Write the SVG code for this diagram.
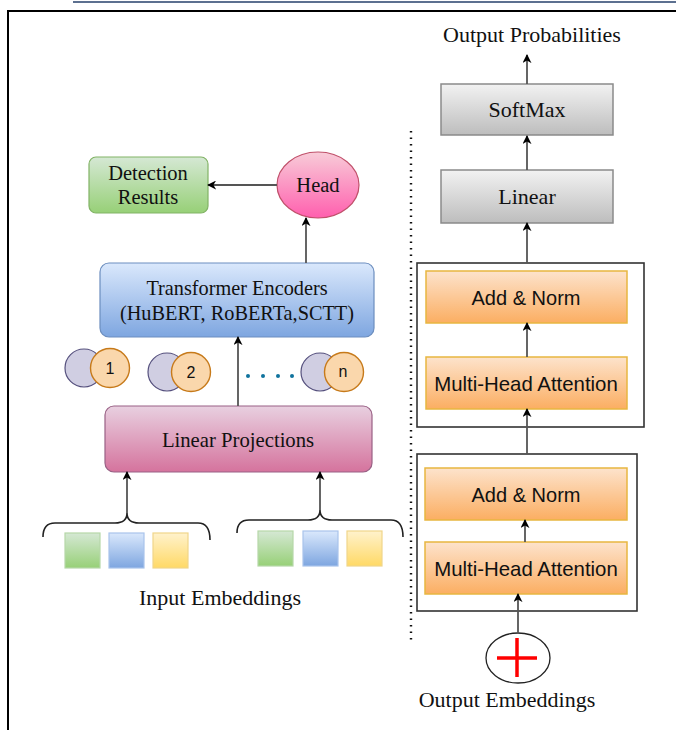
<svg xmlns="http://www.w3.org/2000/svg" width="676" height="730" viewBox="0 0 676 730">
<defs>
<linearGradient id="gGray" x1="0" y1="0" x2="0" y2="1"><stop offset="0" stop-color="#f2f2f2"/><stop offset="1" stop-color="#bdbdbd"/></linearGradient>
<linearGradient id="gOrange" x1="0" y1="0" x2="0" y2="1"><stop offset="0" stop-color="#fde3cc"/><stop offset="1" stop-color="#fbae62"/></linearGradient>
<linearGradient id="gBlue" x1="0" y1="0" x2="0" y2="1"><stop offset="0" stop-color="#dae8fc"/><stop offset="1" stop-color="#7ea6e0"/></linearGradient>
<linearGradient id="gGreen" x1="0" y1="0" x2="0" y2="1"><stop offset="0" stop-color="#d5e8d4"/><stop offset="1" stop-color="#97d077"/></linearGradient>
<linearGradient id="gPink" x1="0" y1="0" x2="0" y2="1"><stop offset="0" stop-color="#e8d0e0"/><stop offset="1" stop-color="#d5739d"/></linearGradient>
<linearGradient id="gHead" x1="0" y1="0" x2="0" y2="1"><stop offset="0" stop-color="#f8ccd8"/><stop offset="1" stop-color="#ff5fae"/></linearGradient>
<linearGradient id="gYellow" x1="0" y1="0" x2="0" y2="1"><stop offset="0" stop-color="#fff2cc"/><stop offset="1" stop-color="#ffd966"/></linearGradient>
<marker id="ah" viewBox="0 0 10 10" refX="9" refY="5" markerWidth="9" markerHeight="9" orient="auto" markerUnits="userSpaceOnUse"><path d="M0,0 L10,5 L0,10 L3,5 Z" fill="#000"/></marker>
<style>
.serif{font-family:"Liberation Serif","Times New Roman",serif;fill:#111;text-anchor:middle}
.sans{font-family:"Liberation Sans",Arial,sans-serif;fill:#111;text-anchor:middle}
.con{stroke:#555;stroke-width:1.8;fill:none;marker-end:url(#ah)}
.frame{fill:none;stroke:#333;stroke-width:1.6}
.gray{fill:url(#gGray);stroke:#8a8a8a;stroke-width:1.5}
.orange{fill:url(#gOrange);stroke:#e8b640;stroke-width:1.5}
</style>
</defs>
<rect x="0" y="0" width="676" height="730" fill="#fff"/>
<line x1="73" y1="2" x2="676" y2="2" stroke="#5c7090" stroke-width="2"/>
<path d="M8,730 V11 H676" fill="none" stroke="#000" stroke-width="2"/>

<g id="dotted-separator"><line x1="411" y1="131" x2="411" y2="640" stroke="#111" stroke-width="2.4" stroke-dasharray="1.6 4.9"/></g>

<g id="output-probabilities"><text class="serif" x="532" y="42" font-size="22">Output Probabilities</text></g>
<g id="softmax"><rect class="gray" x="441" y="84" width="172" height="51"/><text class="serif" x="527" y="117" font-size="22">SoftMax</text></g>
<g id="linear"><rect class="gray" x="441" y="170" width="172" height="53"/><text class="serif" x="527" y="204" font-size="22">Linear</text></g>

<g id="block-upper"><rect class="frame" x="417" y="263" width="227" height="164"/></g>
<g id="add-norm-1"><rect class="orange" x="426" y="271" width="201" height="52"/><text class="sans" x="526" y="305" font-size="20">Add &amp; Norm</text></g>
<g id="mha-1"><rect class="orange" x="426" y="357" width="201" height="52"/><text class="sans" x="526" y="391" font-size="20.4">Multi-Head Attention</text></g>

<g id="block-lower"><rect class="frame" x="417" y="454" width="220" height="157"/></g>
<g id="add-norm-2"><rect class="orange" x="425" y="468" width="202" height="52"/><text class="sans" x="526" y="502" font-size="20">Add &amp; Norm</text></g>
<g id="mha-2"><rect class="orange" x="425" y="542" width="202" height="52"/><text class="sans" x="526" y="576" font-size="20.4">Multi-Head Attention</text></g>

<g id="sum-node"><ellipse cx="518" cy="658" rx="32" ry="25" fill="#fff" stroke="#222" stroke-width="1.3"/><path d="M497,658 H537 M517,638 V677" stroke="#f00" stroke-width="3.5"/></g>
<g id="output-embeddings"><text class="serif" x="507" y="707" font-size="22">Output Embeddings</text></g>

<g id="detection-results"><rect x="89" y="157" width="119" height="56" rx="7" fill="url(#gGreen)" stroke="#82b366" stroke-width="1.2"/><text class="serif" x="148" y="180" font-size="20.5">Detection</text><text class="serif" x="148" y="204" font-size="20.5">Results</text></g>
<g id="head"><ellipse cx="318" cy="185" rx="41" ry="33" fill="url(#gHead)" stroke="#c0506a" stroke-width="1.2"/><text class="serif" x="318" y="192" font-size="20.5">Head</text></g>
<g id="transformer-encoders"><rect x="100" y="263" width="274" height="74" rx="9" fill="url(#gBlue)" stroke="#6c8ebf" stroke-width="1.2"/><text class="serif" x="237" y="295" font-size="20.3">Transformer Encoders</text><text class="serif" x="237" y="320" font-size="20.3">(HuBERT, RoBERTa,SCTT)</text></g>

<g id="token-1"><circle cx="84" cy="368" r="19" fill="#d0cee2" stroke="#56517e" stroke-width="1.2"/><circle cx="110" cy="368" r="19.5" fill="#fad7ac" stroke="#c77a1a" stroke-width="1.4"/><text class="sans" x="110" y="374" font-size="16">1</text></g>
<g id="token-2"><circle cx="167" cy="372" r="19" fill="#d0cee2" stroke="#56517e" stroke-width="1.2"/><circle cx="191" cy="372" r="19.5" fill="#fad7ac" stroke="#c77a1a" stroke-width="1.4"/><text class="sans" x="191" y="378" font-size="16">2</text></g>
<g id="token-n"><circle cx="320" cy="372" r="19" fill="#d0cee2" stroke="#56517e" stroke-width="1.2"/><circle cx="344" cy="372" r="19.5" fill="#fad7ac" stroke="#c77a1a" stroke-width="1.4"/><text class="sans" x="343" y="377" font-size="16">n</text></g>
<g id="ellipsis"><g fill="#10739e"><circle cx="248" cy="376" r="2"/><circle cx="263" cy="376" r="2"/><circle cx="278" cy="376" r="2"/><circle cx="292" cy="376" r="2"/></g></g>

<g id="linear-projections"><rect x="105" y="406" width="267" height="66" rx="9" fill="url(#gPink)" stroke="#996185" stroke-width="1.2"/><text class="serif" x="238" y="447" font-size="20.7">Linear Projections</text></g>

<g id="embeddings-group-1">
<path d="M43,537 Q43,523 55,523 L115,523 Q127,523 127,513 Q127,523 139,523 L198,523 Q210,523 210,540" fill="none" stroke="#222" stroke-width="1.6"/>
<rect x="65" y="533" width="35" height="35" fill="url(#gGreen)" stroke="#b6d7a8" stroke-width="1.2"/>
<rect x="109" y="533" width="35" height="35" fill="url(#gBlue)" stroke="#a9c4eb" stroke-width="1.2"/>
<rect x="153" y="533" width="35" height="35" fill="url(#gYellow)" stroke="#f0d68a" stroke-width="1.2"/>
</g>
<g id="embeddings-group-2">
<path d="M237,533 Q237,520 249,520 L308,520 Q320,520 320,510 Q320,520 332,520 L391,520 Q403,520 403,537" fill="none" stroke="#222" stroke-width="1.6"/>
<rect x="258" y="531" width="35" height="35" fill="url(#gGreen)" stroke="#b6d7a8" stroke-width="1.2"/>
<rect x="303" y="531" width="35" height="35" fill="url(#gBlue)" stroke="#a9c4eb" stroke-width="1.2"/>
<rect x="347" y="531" width="35" height="35" fill="url(#gYellow)" stroke="#f0d68a" stroke-width="1.2"/>
</g>
<g id="input-embeddings"><text class="serif" x="220" y="605" font-size="22">Input Embeddings</text></g>

<g id="connectors">
<line class="con" x1="527" y1="84" x2="527" y2="55"/>
<line class="con" x1="527" y1="170" x2="527" y2="136"/>
<line class="con" x1="527" y1="263" x2="527" y2="223"/>
<line class="con" x1="527" y1="357" x2="527" y2="323"/>
<line class="con" x1="527" y1="454" x2="527" y2="409"/>
<line class="con" x1="525" y1="542" x2="525" y2="520"/>
<line class="con" x1="518" y1="633" x2="518" y2="594"/>
<line class="con" x1="277" y1="185" x2="208" y2="185"/>
<line class="con" x1="306" y1="263" x2="306" y2="218"/>
<line class="con" x1="238" y1="406" x2="238" y2="337"/>
<line class="con" x1="127" y1="513" x2="127" y2="472"/>
<line class="con" x1="320" y1="510" x2="320" y2="472"/>
</g>
</svg>
